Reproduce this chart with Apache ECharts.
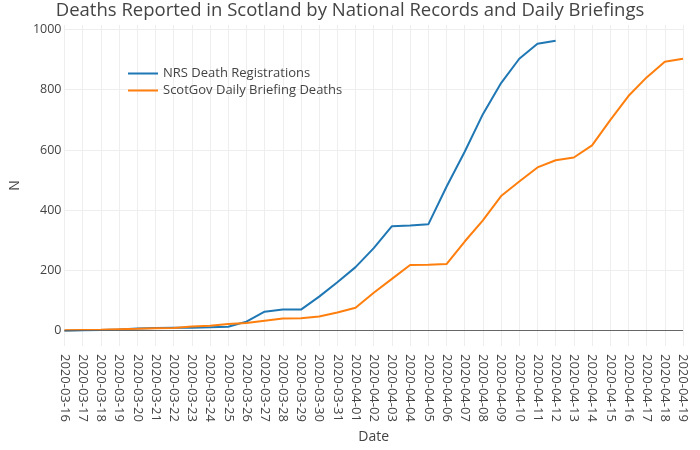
<!DOCTYPE html>
<html>
<head>
<meta charset="utf-8">
<script src="https://cdn.jsdelivr.net/npm/echarts@6/dist/echarts.min.js"></script>
<style>
  html, body { margin: 0; padding: 0; background: #fff; }
  #chart { width: 700px; height: 450px; }
</style>
</head>
<body>
<div id="chart"></div>
<script>
const dates = [
  "2020-03-16", "2020-03-17", "2020-03-18", "2020-03-19", "2020-03-20",
  "2020-03-21", "2020-03-22", "2020-03-23", "2020-03-24", "2020-03-25",
  "2020-03-26", "2020-03-27", "2020-03-28", "2020-03-29", "2020-03-30",
  "2020-03-31", "2020-04-01", "2020-04-02", "2020-04-03", "2020-04-04",
  "2020-04-05", "2020-04-06", "2020-04-07", "2020-04-08", "2020-04-09",
  "2020-04-10", "2020-04-11", "2020-04-12", "2020-04-13", "2020-04-14",
  "2020-04-15", "2020-04-16", "2020-04-17", "2020-04-18", "2020-04-19",
];

// NRS registrations stop at 2020-04-12
const nrsDeaths = [
  0, 1, 2, 4, 7, 9, 10, 10, 11, 13,
  30, 63, 70, 70, 113, 161, 211, 274, 347, 349,
  353, 478, 594, 719, 822, 903, 953, 963,
];

const briefingDeaths = [
  1, 2, 3, 5, 6, 8, 9, 14, 16, 22,
  25, 33, 40, 41, 47, 60, 76, 126, 172, 218,
  219, 221, 296, 366, 447, 495, 542, 566, 575, 615,
  699, 779, 841, 893, 903,
];

const yTicks = [0, 200, 400, 600, 800, 1000];

const font = "'Open Sans', 'DejaVu Sans', sans-serif";
const ink = "#444";
const grid = "#eeeeee";

const chart = echarts.init(document.getElementById("chart"), null, { renderer: "canvas" });

chart.setOption({
  animation: false,
  backgroundColor: "#fff",
  textStyle: { fontFamily: font, color: ink },
  title: {
    text: "Deaths Reported in Scotland by National Records and Daily Briefings",
    left: "center",
    top: -4,
    textStyle: { fontFamily: font, fontSize: 18.5, fontWeight: "normal", color: ink },
  },
  legend: {
    orient: "vertical",
    left: 122,
    top: 62,
    itemWidth: 30,
    itemHeight: 14,
    itemGap: 4,
    itemStyle: { opacity: 0 },
    textStyle: { fontFamily: font, fontSize: 13, color: ink },
    data: ["NRS Death Registrations", "ScotGov Daily Briefing Deaths"],
  },
  grid: { left: 59, right: 17, top: 25, bottom: 104 },
  xAxis: {
    type: "category",
    data: dates,
    boundaryGap: false,
    name: "Date",
    nameLocation: "middle",
    nameGap: 84,
    nameTextStyle: { fontFamily: font, fontSize: 14, color: ink },
    axisLine: { show: false },
    axisTick: { show: false },
    axisLabel: {
      interval: 0,
      rotate: -90,
      margin: 8,
      fontSize: 13,
      color: ink,
      fontFamily: font,
    },
    splitLine: { show: true, interval: 0, lineStyle: { color: grid, width: 1 } },
  },
  yAxis: {
    type: "value",
    min: -51,
    max: 1015,
    name: "N",
    nameLocation: "middle",
    nameGap: 41,
    nameTextStyle: { fontFamily: font, fontSize: 14, color: ink },
    axisLine: { show: false },
    axisTick: { show: false, customValues: yTicks },
    axisLabel: {
      customValues: yTicks,
      formatter: (v) => String(v),
      margin: 3,
      fontSize: 12.5,
      color: ink,
      fontFamily: font,
    },
    splitLine: { show: true, lineStyle: { color: grid, width: 1 } },
  },
  series: [
    {
      name: "NRS Death Registrations",
      type: "line",
      data: nrsDeaths,
      symbol: "none",
      lineStyle: { color: "#1f77b4", width: 2 },
      itemStyle: { color: "#1f77b4" },
      markLine: {
        silent: true,
        symbol: "none",
        label: { show: false },
        lineStyle: { color: "#666", width: 1, type: "solid" },
        data: [{ yAxis: 0 }],
      },
    },
    {
      name: "ScotGov Daily Briefing Deaths",
      type: "line",
      data: briefingDeaths,
      symbol: "none",
      lineStyle: { color: "#ff7f0e", width: 2 },
      itemStyle: { color: "#ff7f0e" },
    },
  ],
});
</script>
</body>
</html>
